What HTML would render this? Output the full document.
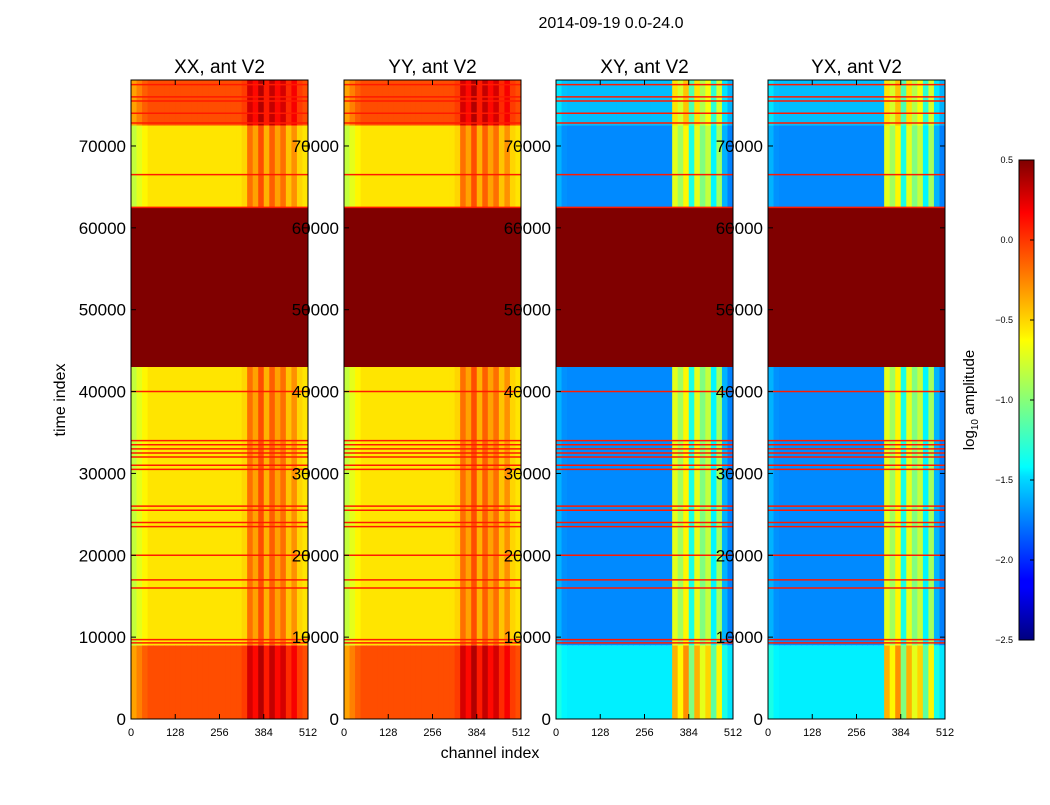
<!DOCTYPE html>
<html><head><meta charset="utf-8"><style>
body{margin:0;background:#fff;}
svg text{font-family:"Liberation Sans",sans-serif;}
</style></head><body>
<svg id="fig" width="1050" height="800" xmlns="http://www.w3.org/2000/svg">
<defs>
<linearGradient id="jet" x1="0" y1="1" x2="0" y2="0">
<stop offset="0" stop-color="#00007f"/><stop offset="0.11" stop-color="#0000ff"/><stop offset="0.125" stop-color="#0000ff"/>
<stop offset="0.34" stop-color="#00ddff"/><stop offset="0.36" stop-color="#0ff"/><stop offset="0.625" stop-color="#ff0"/>
<stop offset="0.64" stop-color="#ffee00"/><stop offset="0.89" stop-color="#ff0000"/><stop offset="1" stop-color="#7f0000"/>
</linearGradient>
</defs>
<text x="611" y="28" font-size="16" text-anchor="middle">2014-09-19 0.0-24.0</text>
<text x="490" y="758" font-size="16" text-anchor="middle">channel index</text>
<text transform="translate(65,400) rotate(-90)" font-size="16" text-anchor="middle">time index</text>
<g id="panels"></g>
<g>
<rect x="1019" y="160" width="15" height="480" fill="url(#jet)" stroke="#000" stroke-width="1"/>
<g id="cbticks"></g>
<text transform="translate(974,400) rotate(-90)" font-size="15" text-anchor="middle">log<tspan font-size="10" dy="4">10</tspan><tspan dy="-4"> amplitude</tspan></text>
</g>
</svg>
<script>
const pols = ["XX","YY","XY","YX"];
const panelLefts = [131,344,556,768];
const yTicks = [0,10000,20000,30000,40000,50000,60000,70000];
const xTicks = [0,128,256,384,512];
const cbTicks = [0.5,0.0,-0.5,-1.0,-1.5,-2.0,-2.5];
const coProfile = [-0.8,-0.7,-0.6,-0.55,-0.55,-0.55,-0.55,-0.55,-0.55,-0.55,-0.55,-0.55,-0.55,-0.55,-0.55,-0.55,-0.55,-0.55,-0.55,-0.55,-0.5,-0.2,-0.35,-0.1,-0.4,-0.15,-0.35,-0.2,-0.45,-0.3,-0.5,-0.55];
const crossProfile = [-1.6,-1.7,-1.72,-1.72,-1.72,-1.72,-1.72,-1.72,-1.72,-1.72,-1.72,-1.72,-1.72,-1.72,-1.72,-1.72,-1.72,-1.72,-1.72,-1.72,-1.72,-0.7,-0.9,-0.6,-1.3,-0.7,-1.0,-0.8,-1.4,-0.9,-1.6,-1.75];
const bandStarts = [0,9000,43000,62500,72500];
const bandEnds = [9000,43000,62500,72500,78060];
const bandCoOffset = [0.45,0,99,0,0.45];
const bandCrossOffset = [0.3,0,99,0,0.15];
const lineTimes = [9300,9700,16000,17000,20000,23500,24000,25500,26000,30500,31000,32000,32500,33000,33500,34000,40000,62500,66500,72800,74000,75500,76000,77500];
const vmin=-2.5, vmax=0.5, tmax=78060, cmax=512;
const plotTop=80, plotBottom=719, pw=177;
function yScale(t){return plotBottom-(t/tmax)*(plotBottom-plotTop);}
function jet(v){
  let x=Math.max(0,Math.min(1,(v-vmin)/(vmax-vmin)));
  const f=(a)=>Math.max(0,Math.min(1,1.5-Math.abs(4*x-a)));
  const r=f(3),g=f(2),b=f(1);
  return `rgb(${Math.round(r*255)},${Math.round(g*255)},${Math.round(b*255)})`;
}
const NS="http://www.w3.org/2000/svg";
const root=document.getElementById("panels");
function mk(tag,attrs,parent){const e=document.createElementNS(NS,tag);for(const k in attrs)e.setAttribute(k,attrs[k]);parent.appendChild(e);return e;}
pols.forEach((p,pi)=>{
  const x0=panelLefts[pi];
  const xs=c=>x0+c/cmax*pw;
  const g=mk("g",{},root);
  
  
  const cross=pi>=2;
  const prof=cross?crossProfile:coProfile;
  const offs=cross?bandCrossOffset:bandCoOffset;
  const hm=mk("g",{},g);
  
  
  bandStarts.forEach((s,bi)=>{
    const y1=yScale(bandEnds[bi]),y2=yScale(s);
    prof.forEach((v,ci)=>{
      const val=offs[bi]>50?0.6:v+offs[bi];
      const r=mk("rect",{x:xs(ci*16),y:y1,width:pw/32+0.5,height:y2-y1,fill:jet(val)},hm);
      
      
    });
  });
  lineTimes.forEach(t=>{
    const l=mk("line",{x1:x0,x2:x0+pw,y1:yScale(t),y2:yScale(t),stroke:jet(0.05),"stroke-width":1.5},g);
    
    
  });
  const fr=mk("rect",{x:x0,y:plotTop,width:pw,height:plotBottom-plotTop,fill:"none",stroke:"#000","stroke-width":1},g);
  
  
  const tt=mk("text",{x:x0+pw/2,y:73,"font-size":19,"text-anchor":"middle"},g);
  tt.textContent=p+", ant V2";
  
  
  yTicks.forEach(t=>{
    const y=yScale(t);
    mk("line",{x1:x0,x2:x0+5,y1:y,y2:y,stroke:"#000"},g);
    mk("line",{x1:x0+pw-5,x2:x0+pw,y1:y,y2:y,stroke:"#000"},g);
    const l=mk("text",{x:x0-5,y:y+6,"font-size":17,"text-anchor":"end"},g);
    l.textContent=t;
    
    
  });
  xTicks.forEach(c=>{
    const x=xs(c);
    mk("line",{x1:x,x2:x,y1:plotBottom,y2:plotBottom-5,stroke:"#000"},g);
    mk("line",{x1:x,x2:x,y1:plotTop,y2:plotTop+5,stroke:"#000"},g);
    const l=mk("text",{x:x,y:736,"font-size":11,"text-anchor":"middle"},g);
    l.textContent=c;
    
    
  });
});
const cbg=document.getElementById("cbticks");
cbTicks.forEach(v=>{
  const y=640-(v-vmin)/(vmax-vmin)*480;
  mk("line",{x1:1030,x2:1034,y1:y,y2:y,stroke:"#000"},cbg);
  const l=mk("text",{x:1013,y:y+3,"font-size":9,"text-anchor":"end"},cbg);
  l.textContent=(v<0?"\u2212":"")+Math.abs(v).toFixed(1);
  
  
});
</script>
</body></html>
